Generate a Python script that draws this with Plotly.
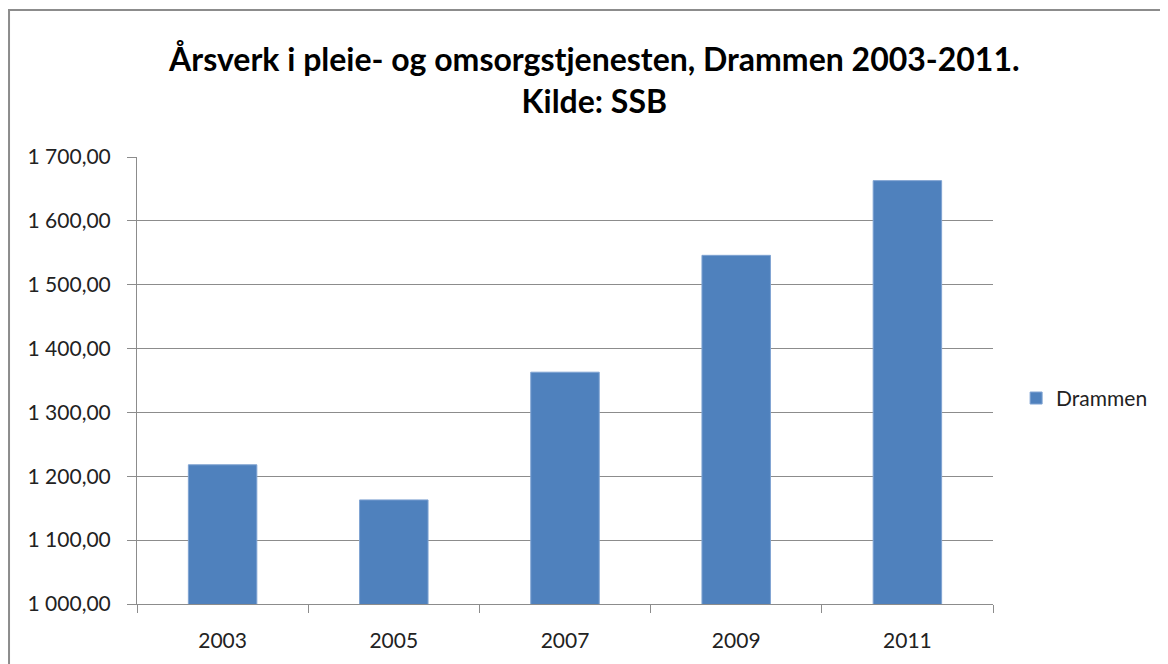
import plotly.graph_objects as go

# Årsverk, Drammen (kilde: SSB)
years = ["2003", "2005", "2007", "2009", "2011"]
aarsverk = [1218, 1163, 1363, 1546, 1663]
series_name = "Drammen"

fig = go.Figure()
fig.add_trace(go.Bar(
    x=years, y=aarsverk, name=series_name,
    marker=dict(color="#4F81BD", line=dict(color="#7FA3D2", width=1)),
    showlegend=True,
))

font = "Lato"
# the page body adds 8px around the figure, margins allow for that
fig.update_layout(
    width=1168, height=664,
    margin=dict(l=129, r=183, t=149, b=68),
    paper_bgcolor="white", plot_bgcolor="white",
    separators=", ",
    bargap=0.6,
    font=dict(family=font, size=20, color="#222"),
    title=dict(
        text="<b>Årsverk i pleie- og omsorgstjenesten, Drammen 2003-2011.<br>Kilde: SSB</b>",
        x=0.502, xanchor="center", y=0.905, yanchor="top",
        font=dict(family=font, size=32, color="black"),
    ),
    legend=dict(x=1.027, y=0.46, xanchor="left", yanchor="middle",
                font=dict(size=21), itemwidth=30),
    showlegend=True,
)
fig.update_yaxes(
    range=[1000, 1700], dtick=100, tickformat=",.2f",
    showgrid=True, gridcolor="#8c8c8c", gridwidth=1,
    showline=True, linecolor="#8c8c8c", linewidth=1,
    ticks="outside", ticklen=9, tickcolor="#8c8c8c",
    zeroline=False, ticklabelstandoff=12, tickfont=dict(size=21),
)
fig.update_xaxes(
    showline=True, linecolor="#8c8c8c", linewidth=1,
    ticks="outside", tickson="boundaries", ticklen=8, tickcolor="#8c8c8c",
    showgrid=False, ticklabelstandoff=18, tickfont=dict(size=21),
)
# outer chart frame
fig.add_shape(type="rect", xref="paper", yref="paper",
              x0=-0.1495, y0=-0.3, x1=1.4, y1=1.329,
              line=dict(color="#8c8c8c", width=2), layer="below")

fig.write_html("out.html")
